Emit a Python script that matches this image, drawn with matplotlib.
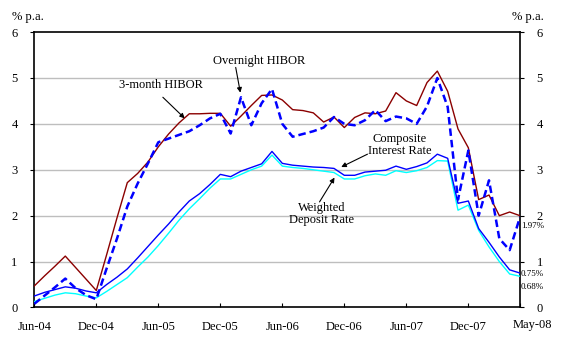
import numpy as np
import matplotlib.pyplot as plt
import matplotlib.transforms as mtransforms

# monthly data, Jun-04 .. May-08 (% p.a.)
months = ['Jun-04', 'Jul-04', 'Aug-04', 'Sep-04', 'Oct-04', 'Nov-04', 'Dec-04',
          'Jan-05', 'Feb-05', 'Mar-05', 'Apr-05', 'May-05', 'Jun-05', 'Jul-05',
          'Aug-05', 'Sep-05', 'Oct-05', 'Nov-05', 'Dec-05', 'Jan-06', 'Feb-06',
          'Mar-06', 'Apr-06', 'May-06', 'Jun-06', 'Jul-06', 'Aug-06', 'Sep-06',
          'Oct-06', 'Nov-06', 'Dec-06', 'Jan-07', 'Feb-07', 'Mar-07', 'Apr-07',
          'May-07', 'Jun-07', 'Jul-07', 'Aug-07', 'Sep-07', 'Oct-07', 'Nov-07',
          'Dec-07', 'Jan-08', 'Feb-08', 'Mar-08', 'Apr-08', 'May-08']

hibor_3m = [0.47, 0.69, 0.90, 1.12, 0.87, 0.62, 0.37, 1.15, 1.95, 2.72, 2.92, 3.17,
            3.50, 3.78, 4.02, 4.22, 4.22, 4.23, 4.23, 3.95, 4.17, 4.40, 4.62, 4.63,
            4.52, 4.31, 4.29, 4.24, 4.04, 4.15, 3.92, 4.14, 4.24, 4.22, 4.28, 4.68,
            4.50, 4.40, 4.90, 5.15, 4.71, 3.89, 3.48, 2.35, 2.45, 2.00, 2.08, 2.00]

hibor_on = [0.08, 0.26, 0.44, 0.63, 0.42, 0.27, 0.18, 0.85, 1.50, 2.20, 2.70, 3.14,
            3.60, 3.68, 3.76, 3.84, 3.97, 4.12, 4.22, 3.79, 4.58, 3.97, 4.45, 4.76,
            4.00, 3.72, 3.78, 3.84, 3.92, 4.15, 4.00, 3.97, 4.08, 4.30, 4.06, 4.16,
            4.12, 4.00, 4.38, 5.00, 4.37, 2.35, 3.42, 2.00, 2.77, 1.50, 1.25, 1.97]

composite = [0.25, 0.33, 0.39, 0.45, 0.42, 0.36, 0.32, 0.50, 0.66, 0.84, 1.08, 1.33,
             1.58, 1.82, 2.08, 2.32, 2.48, 2.68, 2.90, 2.85, 2.97, 3.05, 3.13, 3.40,
             3.14, 3.10, 3.08, 3.06, 3.05, 3.03, 2.88, 2.88, 2.95, 2.97, 2.99, 3.08,
             3.01, 3.07, 3.15, 3.34, 3.25, 2.27, 2.32, 1.72, 1.42, 1.10, 0.82, 0.75]

deposit = [0.13, 0.20, 0.27, 0.32, 0.30, 0.25, 0.21, 0.35, 0.50, 0.65, 0.88, 1.10,
           1.35, 1.62, 1.90, 2.15, 2.37, 2.60, 2.80, 2.80, 2.90, 3.00, 3.08, 3.32,
           3.08, 3.05, 3.03, 3.00, 2.97, 2.94, 2.80, 2.80, 2.87, 2.91, 2.88, 2.98,
           2.94, 2.98, 3.05, 3.20, 3.19, 2.12, 2.23, 1.68, 1.32, 1.00, 0.73, 0.68]

tick_labels = ['Jun-04', 'Dec-04', 'Jun-05', 'Dec-05', 'Jun-06', 'Dec-06',
               'Jun-07', 'Dec-07', 'May-08']

plt.rcParams['font.family'] = ['Liberation Serif', 'DejaVu Serif']

x = np.arange(len(months))

fig = plt.figure(figsize=(5.64, 3.43), dpi=100)
ax = fig.add_axes([0.0608, 0.1035, 0.8612, 0.803])

ax.plot(x, deposit, color='#00FFFF', lw=1.0, zorder=3)
ax.plot(x, composite, color='#0000FF', lw=1.0, zorder=4)
ax.plot(x, hibor_3m, color='#8B0000', lw=1.0, zorder=5)
ax.plot(x, hibor_on, color='#0000FF', lw=1.8, dashes=(3, 1.6), zorder=6)

ax.set_xlim(0, len(months) - 1)
ax.set_ylim(0, 6)
ax.set_yticks(range(0, 7))
for v in range(1, 6):
    ax.axhline(v, color='#BEBEBE', lw=1.0, zorder=1)

ticks = [months.index(t) for t in tick_labels]
ax.set_xticks(ticks)
ax.set_xticklabels(tick_labels, fontsize=9)
ax.tick_params(axis='x', direction='in', length=3, pad=10)
ax.tick_params(axis='y', direction='out', length=3, labelsize=9,
               left=True, right=True, labelleft=True, labelright=True)
ax.tick_params(axis='y', which='major', pad=9)

# May-08 label sits a little right of its tick
lab = ax.get_xticklabels()[-1]
lab.set_transform(lab.get_transform() +
                  mtransforms.ScaledTranslation(12 / 100, 2 / 100, fig.dpi_scale_trans))

for s in ax.spines.values():
    s.set_linewidth(1.2)

fig.text(0.049, 0.951, '% p.a.', fontsize=9, ha='center', va='center')
fig.text(0.936, 0.951, '% p.a.', fontsize=9, ha='center', va='center')

# labels with arrows
arrow = dict(arrowstyle='-|>', color='black', lw=0.8, mutation_scale=7,
             shrinkA=0, shrinkB=0)
ax.text(12.25, 4.84, '3-month HIBOR', fontsize=9, ha='center', va='center')
ax.annotate('', xy=(14.56, 4.12), xytext=(12.44, 4.58), arrowprops=arrow)

ax.text(21.8, 5.38, 'Overnight HIBOR', fontsize=9, ha='center', va='center')
ax.annotate('', xy=(19.94, 4.68), xytext=(19.49, 5.23), arrowprops=arrow)

ax.text(35.33, 3.53, 'Composite\nInterest Rate', fontsize=9, ha='center',
        va='center', linespacing=1.0)
ax.annotate('', xy=(29.7, 3.06), xytext=(32.24, 3.34), arrowprops=arrow)

ax.text(27.8, 2.03, 'Weighted\nDeposit Rate', fontsize=9, ha='center',
        va='center', linespacing=1.0)
ax.annotate('', xy=(29.05, 2.83), xytext=(27.6, 2.3), arrowprops=arrow)

# end values
ax.text(47.1, 1.77, '%.2f%%' % hibor_on[-1], fontsize=6.5, ha='left', va='center', clip_on=False)
ax.text(47.1, 0.73, '%.2f%%' % composite[-1], fontsize=6.5, ha='left', va='center', clip_on=False)
ax.text(47.1, 0.44, '%.2f%%' % deposit[-1], fontsize=6.5, ha='left', va='center', clip_on=False)

fig.savefig('out.png', dpi=100)
